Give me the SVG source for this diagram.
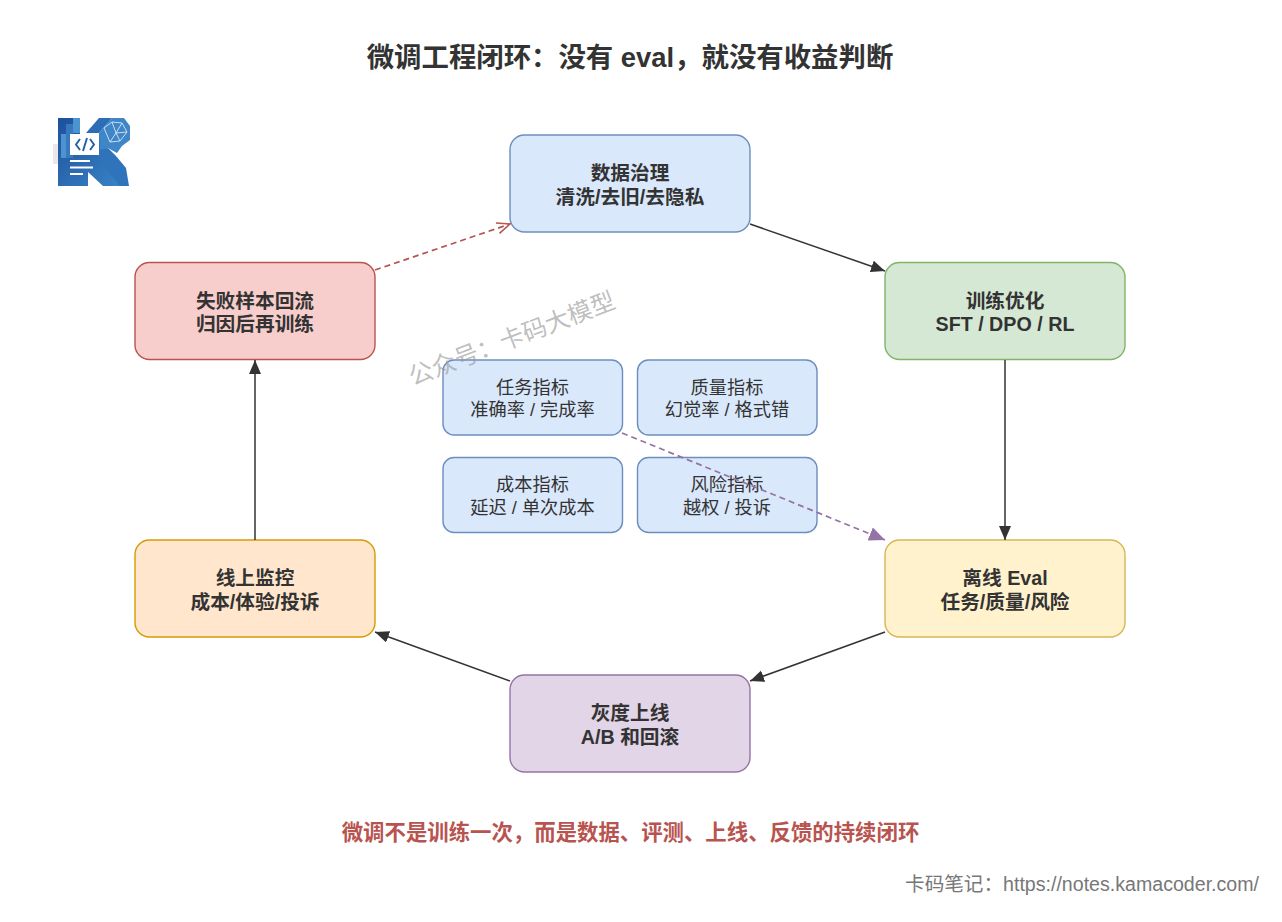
<svg xmlns="http://www.w3.org/2000/svg" width="1282" height="922" viewBox="0 0 1282 922">
<style>
text{font-family:"Liberation Sans","Noto Sans CJK SC",sans-serif;text-anchor:middle;fill:#333}
.b{font-size:19.7px;font-weight:700}
.s{font-size:18.2px}
.n{stroke-width:1.4}
.blue{fill:#dae8fc;stroke:#6c8ebf}
.c{fill:none;stroke:#333;stroke-width:1.5}
</style>
<defs>
<marker id="a" markerUnits="userSpaceOnUse" markerWidth="16" markerHeight="14" refX="14" refY="6" orient="auto"><path d="M0 0L14 6L0 12Z" fill="#333"/></marker>
<marker id="p" markerUnits="userSpaceOnUse" markerWidth="18" markerHeight="16" refX="16" refY="7" orient="auto"><path d="M0 0L16 7L0 14Z" fill="#9673a6"/></marker>
<marker id="r" markerUnits="userSpaceOnUse" markerWidth="16" markerHeight="14" refX="14" refY="6" orient="auto"><path d="M1 0.5L14 6L1 11.500" fill="none" stroke="#b85450" stroke-width="1.6"/></marker>
<linearGradient id="lg" x1="0" y1="0" x2="1" y2="1"><stop offset="0" stop-color="#1d4f9c"/><stop offset="1" stop-color="#3a86c8"/></linearGradient>
</defs>
<rect width="1282" height="922" fill="#fff"/>
<text x="630" y="67" style="font-size:27.4px;font-weight:700">微调工程闭环：没有 eval，就没有收益判断</text>
<g id="logo">
<rect x="53" y="144" width="5" height="20" fill="#e8e8e8"/>
<path d="M58 118H74V128H80V134H100V155L129 186H103L88 172V186H58Z" fill="url(#lg)"/>
<path d="M73 118H80V133H73ZM61 134H66V158H61Z" fill="#4a94d0"/>
<path d="M66 124H73V158H66Z" fill="#3f7fc0" opacity=".8"/>
<path d="M86 133L99 118H112L99 133Z" fill="#2c6db5"/>
<path d="M99 133L112 118H124L130 126V140L122 146L117 153L108 148L100 152Z" fill="#3e86c8"/>
<path d="M99 150L108 148L116 156L126 168L129 186H120L99 160Z" fill="#2f74bb"/>
<rect x="70" y="134" width="29" height="21" fill="#fff"/>
<path d="M80 139L76 144.500L80 150M90 139L94 144.500L90 150M87 138L83 151" fill="none" stroke="#1f5fa8" stroke-width="1.900"/>
<path d="M70 161H90M70 167.500H93M70 174H83" stroke="#fff" stroke-width="2.200" fill="none"/>
<path d="M104 128L112 122L122 123L127 132L120 141L110 142L104 128M112 122L116 133L122 123M116 133L127 132M116 133L110 142M116 133L120 141" stroke="#d6e6f6" stroke-width="0.900" fill="none"/>
</g>
<g id="node-data"><rect class="n" x="510" y="135" width="240" height="97" rx="14.500" fill="#dae8fc" stroke="#6c8ebf"/><text class="b" x="630" y="180">数据治理</text><text class="b" x="630" y="204">清洗/去旧/去隐私</text></g>
<g id="node-train"><rect class="n" x="885" y="262.500" width="240" height="97" rx="14.500" fill="#d5e8d4" stroke="#82b366"/><text class="b" x="1005" y="308">训练优化</text><text class="b" x="1005" y="331">SFT / DPO / RL</text></g>
<g id="node-eval"><rect class="n" x="885" y="540" width="240" height="97" rx="14.500" fill="#fff2cc" stroke="#d6b656"/><text class="b" x="1005" y="585">离线 Eval</text><text class="b" x="1005" y="609">任务/质量/风险</text></g>
<g id="node-gray"><rect class="n" x="510" y="675" width="240" height="97" rx="14.500" fill="#e1d5e7" stroke="#9673a6"/><text class="b" x="630" y="720">灰度上线</text><text class="b" x="630" y="744">A/B 和回滚</text></g>
<g id="node-monitor"><rect class="n" x="135" y="540" width="240" height="97" rx="14.500" fill="#ffe6cc" stroke="#d79b00"/><text class="b" x="255" y="585">线上监控</text><text class="b" x="255" y="609">成本/体验/投诉</text></g>
<g id="node-fail"><rect class="n" x="135" y="262.500" width="240" height="97" rx="14.500" fill="#f8cecc" stroke="#b85450"/><text class="b" x="255" y="308">失败样本回流</text><text class="b" x="255" y="331">归因后再训练</text></g>
<g id="node-task"><rect class="n blue" x="443" y="360" width="179.500" height="75" rx="11"/><text class="s" x="532.500" y="394">任务指标</text><text class="s" x="532.500" y="416">准确率 / 完成率</text></g>
<g id="node-quality"><rect class="n blue" x="637.500" y="360" width="179.500" height="75" rx="11"/><text class="s" x="727" y="394">质量指标</text><text class="s" x="727" y="416">幻觉率 / 格式错</text></g>
<g id="node-cost"><rect class="n blue" x="443" y="457.500" width="179.500" height="75" rx="11"/><text class="s" x="532.500" y="491">成本指标</text><text class="s" x="532.500" y="513.500">延迟 / 单次成本</text></g>
<g id="node-risk"><rect class="n blue" x="637.500" y="457.500" width="179.500" height="75" rx="11"/><text class="s" x="727" y="491">风险指标</text><text class="s" x="727" y="513.500">越权 / 投诉</text></g>
<g id="connectors">
<path class="c" d="M750 224L885 271" marker-end="url(#a)"/>
<path class="c" d="M1005 360V540" marker-end="url(#a)"/>
<path class="c" d="M885 632L750 681" marker-end="url(#a)"/>
<path class="c" d="M510 681L375 632" marker-end="url(#a)"/>
<path class="c" d="M255 540V360" marker-end="url(#a)"/>
<path class="c" d="M375 270L510 224" marker-end="url(#r)" style="stroke:#b85450;stroke-width:1.7;stroke-dasharray:6 4"/>
<path class="c" d="M622 433L885 540" marker-end="url(#p)" style="stroke:#9673a6;stroke-width:1.7;stroke-dasharray:6 4"/>
</g>
<text x="512" y="347" transform="rotate(-21 512 339)" style="font-size:24.300px;fill:#9a9a9a;fill-opacity:.65">公众号：卡码大模型</text>
<text x="630.500" y="840" style="font-size:21.400px;font-weight:700;fill:#b85450">微调不是训练一次，而是数据、评测、上线、反馈的持续闭环</text>
<text x="1259" y="891" style="font-size:19.600px;fill:#777;text-anchor:end">卡码笔记：https://notes.kamacoder.com/</text>
</svg>
